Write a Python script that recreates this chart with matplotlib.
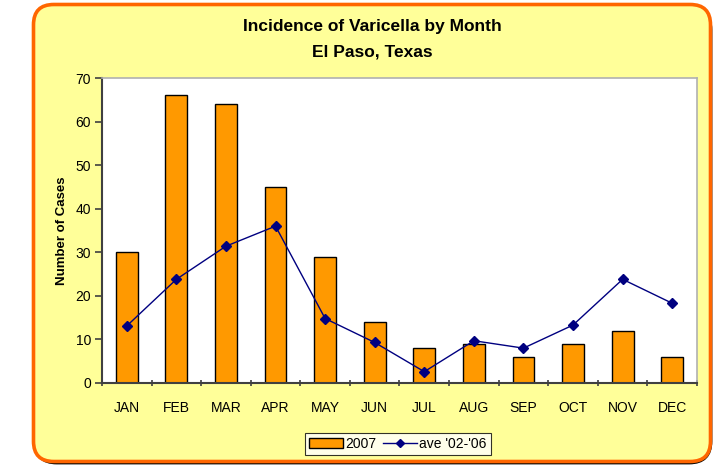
#!/usr/bin/env python3
# varicella_el_paso.py

import matplotlib
matplotlib.use("Agg")
import matplotlib.pyplot as plt
import numpy as np
from matplotlib.patches import FancyBboxPatch
from matplotlib.lines import Line2D
from matplotlib.patches import Patch

plt.rcParams["font.family"] = ["Liberation Sans", "DejaVu Sans"]

months = ["JAN", "FEB", "MAR", "APR", "MAY", "JUN",
          "JUL", "AUG", "SEP", "OCT", "NOV", "DEC"]
cases_2007 = [30, 66, 64, 45, 29, 14, 8, 9, 6, 9, 12, 6]
ave_02_06 = [13.1, 23.8, 31.4, 36.0, 14.8, 9.3, 2.6, 9.7, 8.0, 13.3, 23.8, 18.3]
y_ticks = [0, 10, 20, 30, 40, 50, 60, 70]

W, H = 723, 466


def draw_frame(fig):
    # shadow behind the rounded box
    shadow = FancyBboxPatch((35 / W, 3 / H), 676 / W, 455 / H,
                            boxstyle="round,pad=0,rounding_size=0.03",
                            transform=fig.transFigure, facecolor="black",
                            edgecolor="black", linewidth=2, zorder=-2,
                            mutation_aspect=W / H)
    fig.patches.append(shadow)
    box = FancyBboxPatch((33.5 / W, 4.5 / H), 677 / W, 457 / H,
                         boxstyle="round,pad=0,rounding_size=0.028",
                         transform=fig.transFigure, facecolor="#FFFF99",
                         edgecolor="#FF6600", linewidth=2.6, zorder=-1,
                         mutation_aspect=W / H)
    fig.patches.append(box)


def plot(ax):
    x = np.arange(len(months))
    ax.bar(x, cases_2007, width=0.44, color="#FF9900",
           edgecolor="black", linewidth=1.0, zorder=2)
    ax.plot(x, ave_02_06, color="#000080", linewidth=1.0, marker="D",
            markersize=5, zorder=3)

    ax.set_xlim(-0.5, len(months) - 0.5)
    ax.set_ylim(0, 70)
    ax.set_yticks(y_ticks)
    ax.set_xticks(x)
    ax.set_xticklabels(months)
    ax.set_xticks(np.arange(-0.5, len(months)), minor=True)
    ax.tick_params(axis="x", which="major", length=0, pad=13, labelsize=10)
    ax.tick_params(axis="x", which="minor", length=5, width=1.2,
                   direction="inout", color="#404040")
    ax.tick_params(axis="y", length=5, width=1.2, color="#404040",
                   labelsize=10, pad=3)

    for side in ["top", "right"]:
        ax.spines[side].set_color("#B0B0B0")
        ax.spines[side].set_linewidth(1.2)
    for side in ["left", "bottom"]:
        ax.spines[side].set_color("#404040")
        ax.spines[side].set_linewidth(1.5)

    ax.set_ylabel("Number of Cases", fontsize=9.5, fontweight="bold",
                  labelpad=5)

    handles = [Patch(facecolor="#FF9900", edgecolor="black"),
               Line2D([0], [0], color="#000080", marker="D", markersize=4,
                      linewidth=1.0)]
    leg = ax.legend(handles, ["2007", "ave '02-'06"], loc="center",
                    bbox_to_anchor=(398 / W, 1 - 444 / H),
                    bbox_transform=ax.figure.transFigure, ncol=2,
                    fontsize=10, frameon=True, fancybox=False,
                    handlelength=2.4, handletextpad=0.2, columnspacing=0.5,
                    borderpad=0.3, borderaxespad=0)
    leg.get_frame().set_edgecolor("black")
    leg.get_frame().set_linewidth(0.8)


def main():
    fig = plt.figure(figsize=(7.23, 4.66), dpi=100)
    fig.patch.set_facecolor("white")
    draw_frame(fig)
    ax = fig.add_axes([102 / W, 1 - 383 / H, 595 / W, 305 / H])
    ax.set_facecolor("white")
    plot(ax)
    fig.text(372 / W, 1 - 27 / H, "Incidence of Varicella by Month",
             ha="center", va="center", fontsize=12.5, fontweight="bold")
    fig.text(372 / W, 1 - 52 / H, "El Paso, Texas",
             ha="center", va="center", fontsize=12.5, fontweight="bold")
    fig.savefig("out.png", dpi=100)


if __name__ == "__main__":
    main()
